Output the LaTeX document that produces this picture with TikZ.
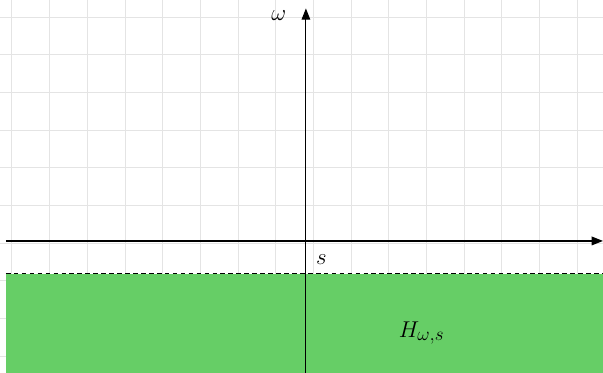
\documentclass[tikz,border=0pt]{standalone}
\usepackage{amsmath,amssymb}
\usepackage{xcolor}
\usepackage{tikz}
\usetikzlibrary{arrows.meta, positioning}
\definecolor{gridgray}{RGB}{228,228,228}
\definecolor{halfgreen}{RGB}{102,206,102}
\tikzstyle{gridline} = [draw=gridgray, line width=0.7pt]
\tikzstyle{axis} = [line width=0.85pt, -{Triangle[length=8.5pt, width=6.5pt]}]
\tikzstyle{boundary} = [line width=0.8pt, dash pattern=on 3.5pt off 2.5pt]
\tikzstyle{lbl} = [inner sep=0pt, font=\fontsize{19}{22}\selectfont]

\begin{document}
\begin{tikzpicture}

\useasboundingbox (-8.117,-3.501) rectangle (7.883,6.393);

% Background grid
\foreach \i in {0,...,15}
  \draw [gridline] ({-7.8+\i},-3.501) -- ({-7.8+\i},6.393);
\foreach \j in {0,...,9}
  \draw [gridline] (-8.117,{5.94-\j}) -- (7.883,{5.94-\j});

% Half plane
\fill [halfgreen] (-7.96,-0.875) rectangle (7.883,-3.501);
\coordinate (bleft) at (-7.96,-0.875);
\coordinate (bright) at (7.883,-0.875);
\draw [boundary] (bleft) -- (bright);

% Axes
\coordinate (xmin) at (-7.96,0);
\coordinate (xmax) at (7.883,0);
\coordinate (ymin) at (0,-3.501);
\coordinate (ymax) at (0,6.17);
\draw [axis] (xmin) -- (xmax);
\draw [axis] (ymin) -- (ymax);

% Labels
\node (omega) [lbl] at (-0.72,5.99) {$\omega$};
\node (slabel) [lbl] at (0.41,-0.5) {$s$};
\node (region) [lbl] at (3.07,-2.44) {$H_{\omega,s}$};

\end{tikzpicture}
\end{document}
